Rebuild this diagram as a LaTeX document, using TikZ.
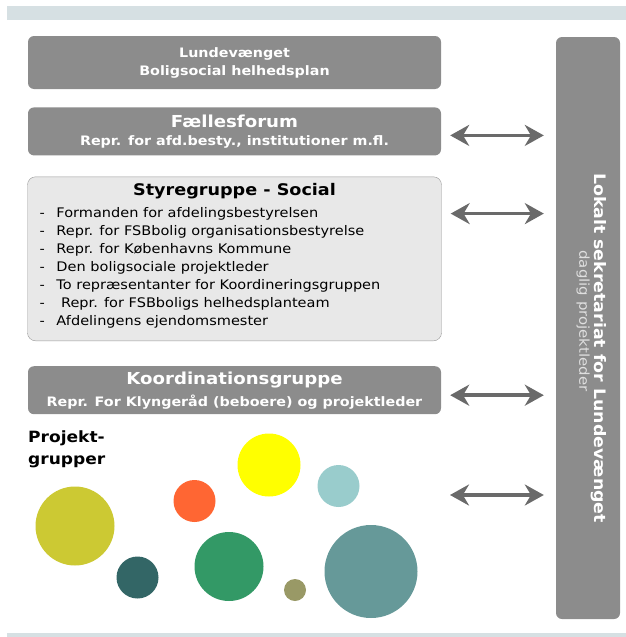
\documentclass[tikz,border=0pt]{standalone}
\usepackage{fontspec}
\setmainfont[FakeStretch=1.1]{DejaVu Sans}
\usepackage{xcolor}
\usetikzlibrary{arrows.meta, positioning}

\definecolor{boxgray}{HTML}{8C8C8C}
\definecolor{lightbox}{HTML}{E8E8E8}
\definecolor{bandblue}{HTML}{D6E0E3}
\definecolor{arrowgray}{HTML}{6A6A6A}
\definecolor{pgolive}{HTML}{CCC933}
\definecolor{pgdark}{HTML}{336666}
\definecolor{pgorange}{HTML}{FF6633}
\definecolor{pgyellow}{HTML}{FFFF00}
\definecolor{pggreen}{HTML}{339966}
\definecolor{pgkhaki}{HTML}{999966}
\definecolor{pglight}{HTML}{99CCCC}
\definecolor{pgteal}{HTML}{669999}

\begin{document}
\begin{tikzpicture}[x=1pt, y=-1pt, node distance=20pt]

    % Define style for boxes
    \tikzstyle{main} = [rectangle, rounded corners=6pt, minimum width=413pt, minimum height=48pt, inner sep=0pt, align=center, fill=boxgray, text=white, font=\bfseries]
    \tikzstyle{styrebox} = [rectangle, rounded corners=8pt, minimum width=414pt, minimum height=164pt, inner sep=0pt, draw=gray!80, fill=lightbox]
    \tikzstyle{twoway} = [{Stealth[length=19pt,width=21pt]}-{Stealth[length=19pt,width=21pt]}, line width=3.6pt, draw=arrowgray]

    \useasboundingbox (0,0) rectangle (626,637);

    % Bands
    \fill[bandblue] (7,6) rectangle (626,20);
    \fill[bandblue] (7,633) rectangle (626,637);

    % Nodes
    \node (lunde) [main, minimum height=53pt, font=\bfseries\fontsize{13}{18}\selectfont] at (234.5,62.5) {Lundevænget\\Boligsocial helhedsplan};
    \node (faelles) [main, below=18pt of lunde] {{\fontsize{16.5}{19}\selectfont Fællesforum}\\[6pt]{\fontsize{13}{16}\selectfont Repr. for afd.besty., institutioner m.fl.}};
    \node (styre) [styrebox, below=21pt of faelles] {};
    \node (styretitle) [below=7pt of styre.north, inner sep=0pt, font=\bfseries\fontsize{16}{20}\selectfont] {Styregruppe - Social};
    \node (styrelist) [anchor=north west, inner sep=0pt, align=left, font=\fontsize{13.2}{18}\selectfont] at ([xshift=12pt, yshift=-31pt]styre.north west)
        {\makebox[17pt][l]{-}Formanden for afdelingsbestyrelsen\\
         \makebox[17pt][l]{-}Repr. for FSBbolig organisationsbestyrelse\\
         \makebox[17pt][l]{-}Repr. for Københavns Kommune\\
         \makebox[17pt][l]{-}Den boligsociale projektleder\\
         \makebox[17pt][l]{-}To repræsentanter for Koordineringsgruppen\\
         \makebox[17pt][l]{-}\ Repr. for FSBboligs helhedsplanteam\\
         \makebox[17pt][l]{-}Afdelingens ejendomsmester};
    \node (koord) [main, below=25pt of styre] {{\fontsize{16.5}{19}\selectfont Koordinationsgruppe}\\[6pt]{\fontsize{13}{16}\selectfont Repr. For Klyngeråd (beboere) og projektleder}};

    \node (projekt) [anchor=north west, inner sep=0pt, align=left, font=\bfseries\fontsize{15.5}{22}\selectfont] at (28,431) {Projekt-\\grupper};

    % Project groups
    \fill[pgolive] (75,526) circle (39.5);
    \fill[pgdark] (137.5,577.5) circle (21);
    \fill[pgorange] (194.5,501) circle (21);
    \fill[pgyellow] (269,465) circle (31.5);
    \fill[pggreen] (229,566.5) circle (34.5);
    \fill[pgkhaki] (295,590) circle (11);
    \fill[pglight] (338.5,486) circle (21);
    \fill[pgteal] (371,571.5) circle (46.5);

    % Lokalt sekretariat
    \node (lok) [main, minimum width=64pt, minimum height=582pt] at (588,328) {};
    \node (lokbold) [rotate=-90, text=white, font=\bfseries\fontsize{15.8}{18}\selectfont] at (599,348) {Lokalt sekretariat for Lundevænget};
    \node (lokdaglig) [rotate=-90, text=gray!25, font=\fontsize{13.6}{15}\selectfont] at (583,321) {daglig projektleder};

    \coordinate (pgend) at (441,495);

    % Lines
    \draw[twoway, shorten <=9pt, shorten >=12pt] ([yshift=-4pt]faelles.east) -- ([yshift=-4pt]faelles.east -| lok.west);
    \draw[twoway, shorten <=9pt, shorten >=12pt] ([yshift=-37pt]styre.north east) -- ([yshift=-37pt]styre.north east -| lok.west);
    \draw[twoway, shorten <=9pt, shorten >=12pt] ([yshift=-5pt]koord.east) -- ([yshift=-5pt]koord.east -| lok.west);
    \draw[twoway, shorten <=9pt, shorten >=12pt] (pgend) -- (pgend -| lok.west);

\end{tikzpicture}
\end{document}
